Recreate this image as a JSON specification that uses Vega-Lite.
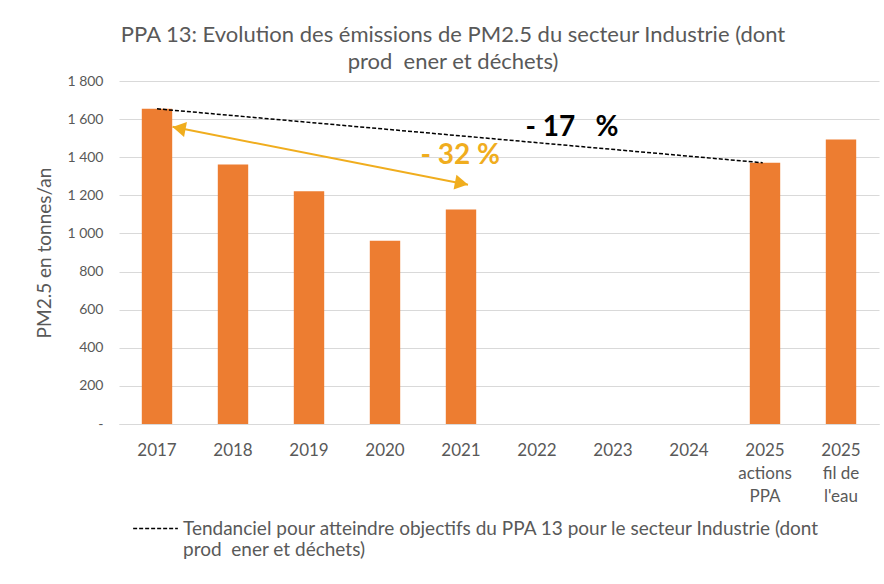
{
  "$schema": "https://vega.github.io/schema/vega-lite/v6.json",
  "width": 760,
  "height": 343,
  "autosize": "none",
  "padding": {"left": 119, "top": 81, "right": 5, "bottom": 160},
  "background": "white",
  "config": {
    "font": "Lato",
    "view": {"stroke": null},
    "axis": {"labelFont": "Lato", "titleFont": "Lato", "labelColor": "#595959", "titleColor": "#595959"}
  },
  "title": {
    "text": ["PPA 13: Evolution des émissions de PM2.5 du secteur Industrie (dont", "prod\u00a0 ener et déchets)"],
    "font": "Lato",
    "fontSize": 22,
    "fontWeight": "normal",
    "color": "#595959",
    "anchor": "middle",
    "dx": -46,
    "offset": 0,
    "lineHeight": 27
  },
  "datasets": {
    "bars": [
      {"cat": "2017", "v": 1654},
      {"cat": "2018", "v": 1362},
      {"cat": "2019", "v": 1222},
      {"cat": "2020", "v": 962},
      {"cat": "2021", "v": 1126},
      {"cat": "2022", "v": null},
      {"cat": "2023", "v": null},
      {"cat": "2024", "v": null},
      {"cat": "2025 actions PPA", "v": 1371},
      {"cat": "2025 fil de l'eau", "v": 1493}
    ],
    "trend": [
      {"pos": 0.5, "v": 1654, "serie": "Tendanciel pour atteindre objectifs du PPA 13 pour le secteur Industrie (dont prod\u00a0 ener et déchets)"},
      {"pos": 8.47, "v": 1371, "serie": "Tendanciel pour atteindre objectifs du PPA 13 pour le secteur Industrie (dont prod\u00a0 ener et déchets)"}
    ],
    "arrow": [
      {"pos": 0.704, "v": 1560},
      {"pos": 4.592, "v": 1255}
    ],
    "headStart": [{"pos": 0.79, "v": 1552}],
    "headEnd": [{"pos": 4.506, "v": 1263}],
    "labels17": [{"pos": 5.96, "v": 1555, "txt": "- 17\u00a0\u00a0\u00a0%"}],
    "labels32": [{"pos": 4.49, "v": 1404, "txt": "- 32 %"}]
  },
  "encoding": {
    "y": {
      "field": "v", "type": "quantitative",
      "scale": {"domain": [0, 1800], "nice": false},
      "axis": {
        "title": "PM2.5 en tonnes/an", "titleFontSize": 19, "titleFontWeight": "normal", "titlePadding": 12,
        "values": [0,200,400,600,800,1000,1200,1400,1600,1800],
        "labelOverlap": false, "labelBound": false, "labelFlush": false,
        "domain": false, "ticks": false, "grid": true, "gridColor": "#D9D9D9", "gridWidth": 1,
        "labelFontSize": 14, "labelPadding": 16,
        "labelExpr": "datum.value == 0 ? '-' : replace(format(datum.value, ','), ',', ' ')"
      }
    }
  },
  "resolve": {"scale": {"x": "independent"}},
  "layer": [
    {
      "data": {"name": "bars"},
      "mark": {"type": "bar", "color": "#ED7D31", "width": {"band": 0.4}},
      "encoding": {
        "x": {
          "field": "cat", "type": "nominal", "sort": null,
          "scale": {"domain": ["2017","2018","2019","2020","2021","2022","2023","2024","2025 actions PPA","2025 fil de l'eau"], "paddingInner": 0, "paddingOuter": 0},
          "axis": {
            "title": null, "labelAngle": 0, "ticks": false, "domainColor": "#D9D9D9", "domainWidth": 1,
            "labelFontSize": 17, "labelPadding": 18, "labelLineHeight": 23, "labelBaseline": "top",
            "labelExpr": "datum.label == \"2025 fil de l'eau\" ? [\"2025\", \"fil de\", \"l'eau\"] : split(datum.label, ' ')"
          }
        }
      }
    },
    {
      "layer": [
        {
          "data": {"name": "trend"},
          "mark": {"type": "line", "strokeDash": [4, 2], "strokeWidth": 1.5},
          "encoding": {
            "x": {"field": "pos", "type": "quantitative", "scale": {"domain": [0, 10], "nice": false}, "axis": null},
            "stroke": {
              "field": "serie", "type": "nominal",
              "scale": {"range": ["#000000"]},
              "legend": {
                "title": null, "orient": "none", "legendX": 13, "legendY": 424, "padding": 0,
                "symbolType": "stroke", "symbolDash": [4, 2], "symbolStrokeWidth": 1.5, "symbolSize": 2000,
                "labelFont": "Lato", "labelFontSize": 19, "labelColor": "#595959", "labelLimit": 0,
                "labelLineHeight": 23, "labelOffset": 4,
                "labelExpr": "[substring(datum.label, 0, indexof(datum.label, ' prod')), substring(datum.label, indexof(datum.label, ' prod') + 1)]"
              }
            }
          }
        },
        {
          "data": {"name": "arrow"},
          "mark": {"type": "line", "color": "#F0AD1E", "strokeWidth": 2},
          "encoding": {
            "x": {"field": "pos", "type": "quantitative"}
          }
        },
        {
          "data": {"name": "headStart"},
          "mark": {"type": "point", "shape": "triangle-left", "angle": 11, "filled": true, "opacity": 1, "color": "#F0AD1E", "size": 230},
          "encoding": {
            "x": {"field": "pos", "type": "quantitative"}
          }
        },
        {
          "data": {"name": "headEnd"},
          "mark": {"type": "point", "shape": "triangle-right", "angle": 11, "filled": true, "opacity": 1, "color": "#F0AD1E", "size": 230},
          "encoding": {
            "x": {"field": "pos", "type": "quantitative"}
          }
        },
        {
          "data": {"name": "labels17"},
          "mark": {"type": "text", "font": "Lato", "fontSize": 28, "fontWeight": "bold", "color": "#000000", "align": "center", "baseline": "middle"},
          "encoding": {
            "x": {"field": "pos", "type": "quantitative"},
            "text": {"field": "txt"}
          }
        },
        {
          "data": {"name": "labels32"},
          "mark": {"type": "text", "font": "Lato", "fontSize": 28, "fontWeight": "bold", "color": "#F0AD1E", "align": "center", "baseline": "middle"},
          "encoding": {
            "x": {"field": "pos", "type": "quantitative"},
            "text": {"field": "txt"}
          }
        }
      ]
    }
  ]
}
